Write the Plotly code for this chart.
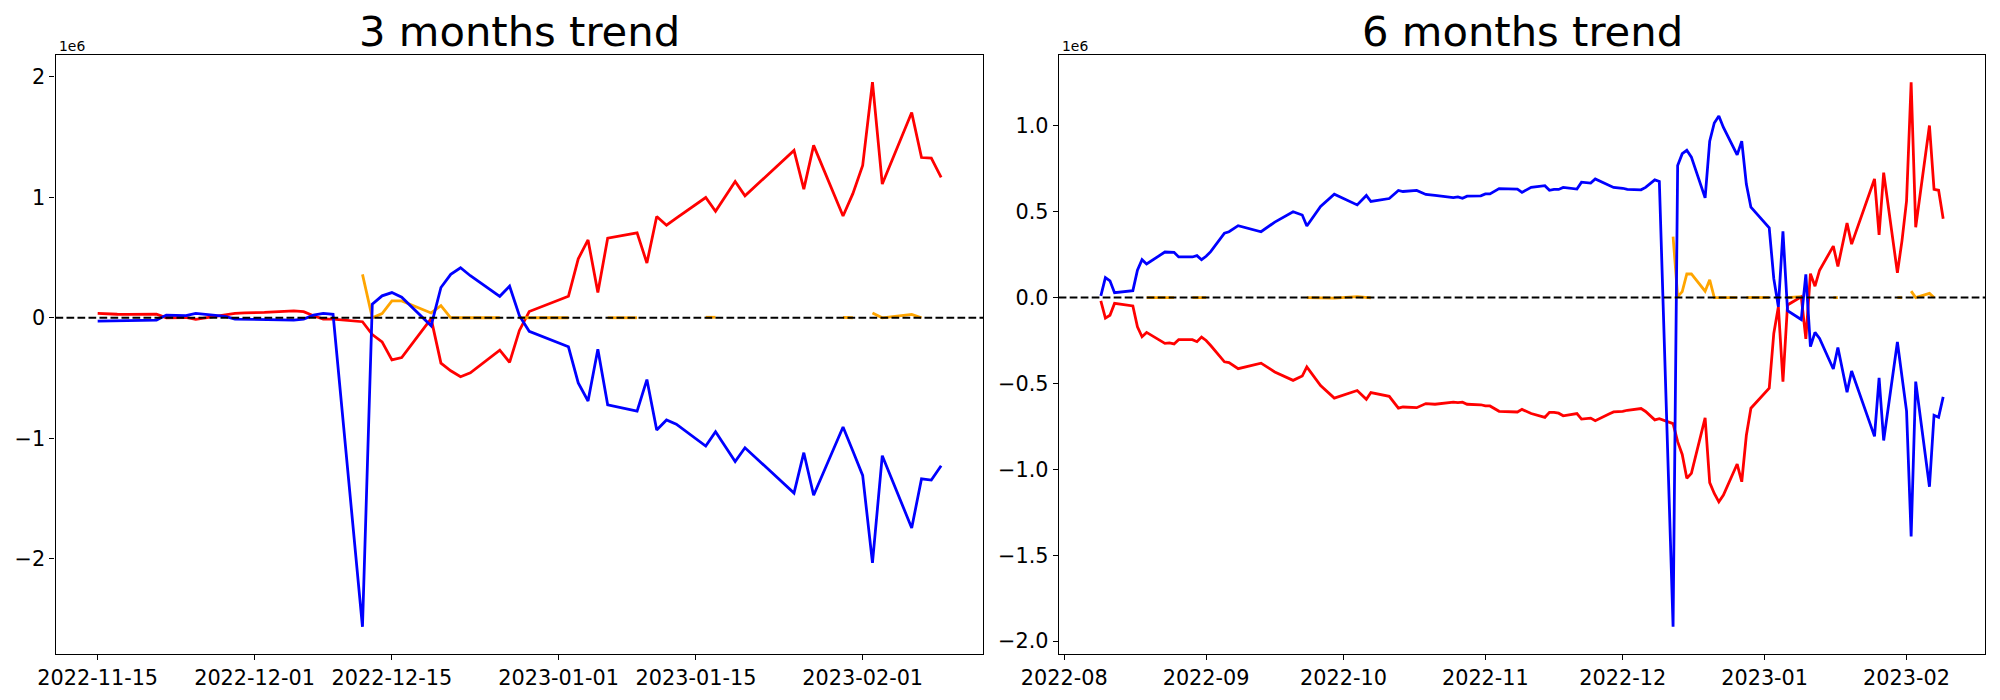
import pandas as pd
import plotly.graph_objects as go

# ---------------- data (values in units of 1e6) ----------------
dates_3m = [
    "2022-11-15", "2022-11-16", "2022-11-17", "2022-11-18", "2022-11-21", "2022-11-22",
    "2022-11-23", "2022-11-24", "2022-11-25", "2022-11-28", "2022-11-29", "2022-11-30",
    "2022-12-01", "2022-12-02", "2022-12-05", "2022-12-06", "2022-12-07", "2022-12-08",
    "2022-12-09", "2022-12-12", "2022-12-13", "2022-12-14", "2022-12-15", "2022-12-16",
    "2022-12-19", "2022-12-20", "2022-12-21", "2022-12-22", "2022-12-23", "2022-12-26",
    "2022-12-27", "2022-12-28", "2022-12-29", "2023-01-02", "2023-01-03", "2023-01-04",
    "2023-01-05", "2023-01-06", "2023-01-09", "2023-01-10", "2023-01-11", "2023-01-12",
    "2023-01-13", "2023-01-16", "2023-01-17", "2023-01-19", "2023-01-20", "2023-01-25",
    "2023-01-26", "2023-01-27", "2023-01-30", "2023-01-31", "2023-02-01", "2023-02-02",
    "2023-02-03", "2023-02-06", "2023-02-07", "2023-02-08", "2023-02-09",
]
red_3m = [
    0.036, 0.030, 0.029, 0.028, 0.030, 0.000,
    0.000, 0.002, -0.014, 0.022, 0.036, 0.040,
    0.041, 0.044, 0.058, 0.050, 0.017, -0.011,
    -0.011, -0.033, -0.140, -0.200, -0.350, -0.330,
    -0.007, -0.377, -0.440, -0.489, -0.457, -0.269,
    -0.370, -0.105, 0.052, 0.178, 0.489, 0.646,
    0.209, 0.660, 0.705, 0.454, 0.841, 0.768,
    0.827, 0.998, 0.883, 1.131, 1.012, 1.389,
    1.068, 1.431, 0.845, 1.030, 1.264, 1.955,
    1.110, 1.703, 1.330, 1.326, 1.166,
]
blue_3m = [
    -0.028, -0.026, -0.024, -0.022, -0.019, 0.022,
    0.020, 0.017, 0.036, 0.011, -0.011, -0.012,
    -0.014, -0.016, -0.019, -0.011, 0.022, 0.036,
    0.028, -2.565, 0.112, 0.182, 0.209, 0.171,
    -0.066, 0.251, 0.360, 0.415, 0.349, 0.178,
    0.262, 0.017, -0.112, -0.241, -0.541, -0.691,
    -0.262, -0.722, -0.775, -0.513, -0.932, -0.848,
    -0.883, -1.065, -0.946, -1.194, -1.079, -1.455,
    -1.120, -1.473, -0.907, -1.106, -1.309, -2.035,
    -1.145, -1.745, -1.337, -1.347, -1.229,
]
orange_3m = [
    None, None, None, None, None, None,
    None, None, None, None, None, None,
    None, None, None, None, None, None,
    None, 0.360, 0.000, 0.035, 0.140, 0.140,
    0.040, 0.100, 0.000, 0.000, 0.000, 0.000,
    None, 0.000, 0.000, 0.000, None, None,
    None, 0.000, 0.000, None, None, None,
    None, 0.004, 0.004, None, None, None,
    None, None, 0.003, 0.000, None, 0.040,
    0.000, 0.028, 0.000, None, None,
]

dates_6m = [
    "2022-08-09", "2022-08-10", "2022-08-11", "2022-08-12", "2022-08-16", "2022-08-17",
    "2022-08-18", "2022-08-19", "2022-08-23", "2022-08-24", "2022-08-25", "2022-08-26",
    "2022-08-29", "2022-08-30", "2022-08-31", "2022-09-01", "2022-09-02", "2022-09-05",
    "2022-09-06", "2022-09-08", "2022-09-13", "2022-09-16", "2022-09-20", "2022-09-22",
    "2022-09-23", "2022-09-26", "2022-09-29", "2022-10-04", "2022-10-06", "2022-10-07",
    "2022-10-11", "2022-10-13", "2022-10-14", "2022-10-17", "2022-10-19", "2022-10-21",
    "2022-10-25", "2022-10-26", "2022-10-27", "2022-10-28", "2022-10-31", "2022-11-01",
    "2022-11-02", "2022-11-04", "2022-11-08", "2022-11-09", "2022-11-11", "2022-11-14",
    "2022-11-15", "2022-11-16", "2022-11-17", "2022-11-18", "2022-11-21", "2022-11-22",
    "2022-11-24", "2022-11-25", "2022-11-28", "2022-11-29", "2022-12-01", "2022-12-02",
    "2022-12-05", "2022-12-06", "2022-12-08", "2022-12-09", "2022-12-12", "2022-12-13",
    "2022-12-14", "2022-12-15", "2022-12-16", "2022-12-19", "2022-12-20", "2022-12-21",
    "2022-12-22", "2022-12-23", "2022-12-26", "2022-12-27", "2022-12-28", "2022-12-29",
    "2023-01-02", "2023-01-03", "2023-01-04", "2023-01-05", "2023-01-06", "2023-01-09",
    "2023-01-10", "2023-01-11", "2023-01-12", "2023-01-13", "2023-01-16", "2023-01-17",
    "2023-01-19", "2023-01-20", "2023-01-25", "2023-01-26", "2023-01-27", "2023-01-30",
    "2023-01-31", "2023-02-01", "2023-02-02", "2023-02-03", "2023-02-06", "2023-02-07",
    "2023-02-08", "2023-02-09",
]
red_6m = [
    -0.020, -0.120, -0.103, -0.034, -0.049, -0.171,
    -0.228, -0.203, -0.267, -0.264, -0.270, -0.245,
    -0.245, -0.257, -0.230, -0.250, -0.279, -0.374,
    -0.379, -0.414, -0.382, -0.433, -0.482, -0.457,
    -0.404, -0.512, -0.585, -0.541, -0.592, -0.553,
    -0.575, -0.644, -0.637, -0.641, -0.617, -0.621,
    -0.609, -0.612, -0.609, -0.621, -0.624, -0.631,
    -0.631, -0.662, -0.666, -0.651, -0.675, -0.697,
    -0.668, -0.668, -0.673, -0.688, -0.675, -0.707,
    -0.702, -0.717, -0.678, -0.666, -0.663, -0.656,
    -0.646, -0.663, -0.712, -0.705, -0.734, -0.839,
    -0.913, -1.052, -1.023, -0.700, -1.077, -1.140,
    -1.189, -1.150, -0.969, -1.072, -0.803, -0.644,
    -0.528, -0.209, -0.054, -0.489, -0.043, 0.004,
    -0.240, 0.139, 0.066, 0.159, 0.299, 0.181,
    0.433, 0.311, 0.690, 0.365, 0.727, 0.144,
    0.330, 0.563, 1.253, 0.409, 1.001, 0.629,
    0.624, 0.458,
]
blue_6m = [
    0.010, 0.116, 0.097, 0.028, 0.040, 0.159,
    0.220, 0.195, 0.265, 0.263, 0.263, 0.236,
    0.236, 0.244, 0.220, 0.240, 0.267, 0.375,
    0.383, 0.418, 0.383, 0.439, 0.499, 0.480,
    0.416, 0.530, 0.601, 0.539, 0.594, 0.559,
    0.576, 0.623, 0.617, 0.623, 0.600, 0.594,
    0.582, 0.586, 0.578, 0.590, 0.592, 0.603,
    0.603, 0.634, 0.631, 0.612, 0.641, 0.651,
    0.624, 0.629, 0.629, 0.641, 0.631, 0.671,
    0.666, 0.690, 0.653, 0.641, 0.636, 0.629,
    0.627, 0.641, 0.685, 0.675, -1.916, 0.768,
    0.837, 0.857, 0.817, 0.580, 0.910, 1.016,
    1.057, 0.990, 0.830, 0.910, 0.660, 0.526,
    0.406, 0.110, -0.054, 0.385, -0.077, -0.128,
    0.135, -0.286, -0.203, -0.238, -0.416, -0.291,
    -0.551, -0.428, -0.808, -0.467, -0.832, -0.259,
    -0.460, -0.661, -1.390, -0.489, -1.101, -0.685,
    -0.697, -0.578,
]
orange_6m = [
    None, None, None, None, None, None,
    None, 0.000, 0.000, 0.000, 0.000, None,
    0.000, 0.000, 0.000, 0.000, None, None,
    None, None, None, None, None, None,
    0.000, -0.003, -0.003, 0.005, -0.002, -0.002,
    None, None, None, None, None, None,
    None, None, None, None, None, None,
    None, None, None, None, None, None,
    None, None, None, None, None, None,
    None, None, None, None, None, None,
    None, None, None, None, 0.355, 0.005,
    0.034, 0.137, 0.137, 0.037, 0.103, 0.000,
    0.000, 0.000, 0.000, None, 0.000, 0.000,
    0.000, None, None, None, 0.000, 0.005,
    None, None, None, None, 0.000, 0.000,
    None, None, None, None, None, 0.000,
    0.000, None, 0.037, 0.000, 0.024, 0.000,
    None, None,
]

ticks_3m = ["2022-11-15", "2022-12-01", "2022-12-15", "2023-01-01", "2023-01-15", "2023-02-01"]
ticks_6m = ["2022-08-01", "2022-09-01", "2022-10-01", "2022-11-01", "2022-12-01", "2023-01-01", "2023-02-01"]
yticks_3m = [-2, -1, 0, 1, 2]
yticks_6m = [-2.0, -1.5, -1.0, -0.5, 0.0, 0.5, 1.0]
titles = ["3 months trend", "6 months trend"]

# ---------------- styling ----------------
# The page body has an 8px default margin, so the figure is 1984x684 and
# page pixel positions are converted to figure-paper fractions.
OFF = 8
W, H = 2000 - 2 * OFF, 700 - 2 * OFF
FONT = "DejaVu Sans"
TICK_SIZE = 20.8
TITLE_SIZE = 41.7
LW = 2.78


def px(xp):
    return (xp - OFF) / W


def py(yp):
    return 1 - (yp - OFF) / H


dom_x = [[px(55.5), px(983.3)], [px(1058.7), px(1985.3)]]
dom_y = [py(654.0), py(55.0)]


def pad_range(vals, frac=0.05):
    v = [x for x in vals if x is not None]
    lo, hi = min(v), max(v)
    p = (hi - lo) * frac
    return [lo - p, hi + p]


def pad_dates(ds, frac=0.05):
    t = pd.to_datetime(pd.Series(ds))
    lo, hi = t.min(), t.max()
    p = (hi - lo) * frac
    return [(lo - p).strftime("%Y-%m-%d %H:%M:%S"), (hi + p).strftime("%Y-%m-%d %H:%M:%S")]


fig = go.Figure()

panels = [
    (dates_3m, red_3m, blue_3m, orange_3m, "x", "y"),
    (dates_6m, red_6m, blue_6m, orange_6m, "x2", "y2"),
]
for ds, r, b, o, xa, ya in panels:
    fig.add_trace(go.Scatter(x=ds, y=r, mode="lines", line=dict(color="red", width=LW),
                             xaxis=xa, yaxis=ya, showlegend=False))
    fig.add_trace(go.Scatter(x=ds, y=o, mode="lines", line=dict(color="orange", width=LW),
                             connectgaps=False, xaxis=xa, yaxis=ya, showlegend=False))
    fig.add_trace(go.Scatter(x=ds, y=b, mode="lines", line=dict(color="blue", width=LW),
                             xaxis=xa, yaxis=ya, showlegend=False))

axis_common = dict(
    showline=True, linecolor="black", linewidth=1.1, mirror=True,
    ticks="outside", ticklen=5, tickwidth=1.1, tickcolor="black",
    showgrid=False, zeroline=False, automargin=False,
    tickfont=dict(family=FONT, size=TICK_SIZE, color="black"),
)

yr3 = pad_range(red_3m + blue_3m + orange_3m)
yr6 = pad_range(red_6m + blue_6m + orange_6m)

fig.update_layout(
    width=W, height=H,
    margin=dict(l=0, r=0, t=0, b=0, autoexpand=False),
    paper_bgcolor="white", plot_bgcolor="white",
    font=dict(family=FONT, color="black"),
    xaxis=dict(domain=dom_x[0], type="date", range=pad_dates(dates_3m),
               tickvals=ticks_3m, tickformat="%Y-%m-%d", anchor="y", **axis_common),
    yaxis=dict(domain=dom_y, range=yr3, tickvals=yticks_3m, tickformat="d",
               anchor="x", **axis_common),
    xaxis2=dict(domain=dom_x[1], type="date", range=pad_dates(dates_6m),
                tickvals=ticks_6m, tickformat="%Y-%m", anchor="y2", **axis_common),
    yaxis2=dict(domain=dom_y, range=yr6, tickvals=yticks_6m, tickformat=".1f",
                anchor="x2", **axis_common),
)

for xa, ya in [("x", "y"), ("x2", "y2")]:
    fig.add_shape(type="line", xref=f"{xa} domain", yref=ya, x0=0, x1=1, y0=0, y1=0,
                  line=dict(color="black", width=2.08, dash="7.7px,3.3px"), layer="above")

for i, t in enumerate(titles):
    cx = (dom_x[i][0] + dom_x[i][1]) / 2
    fig.add_annotation(text=t, xref="paper", yref="paper", x=cx, y=py(31.5),
                       xanchor="center", yanchor="middle", showarrow=False,
                       font=dict(family=FONT, size=TITLE_SIZE, color="black"))
    fig.add_annotation(text="1e6", xref="paper", yref="paper", x=dom_x[i][0] + 1 / W,
                       y=py(46), xanchor="left", yanchor="middle", showarrow=False,
                       font=dict(family=FONT, size=13.9, color="black"))

fig.write_html("out.html", config={"displayModeBar": False})
